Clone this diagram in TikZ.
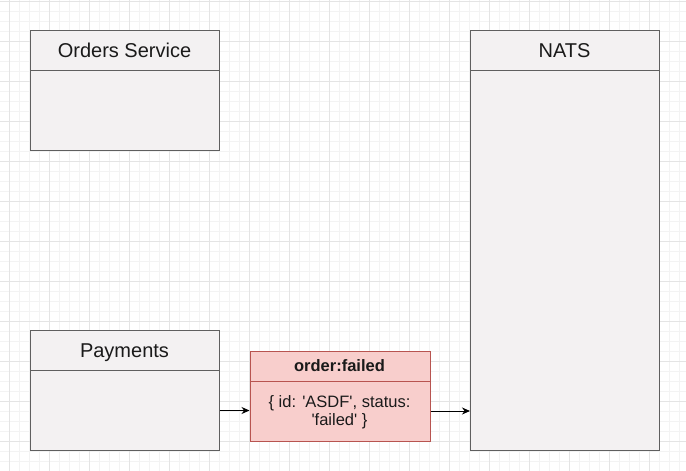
\documentclass[tikz,border=0pt]{standalone}
\usepackage{fontspec}
\setmainfont{Liberation Sans}
\usetikzlibrary{arrows.meta}
\definecolor{gridminor}{HTML}{F3F3F3}
\definecolor{gridmajor}{HTML}{E4E4E4}
\definecolor{boxfill}{HTML}{F3F1F2}
\definecolor{boxline}{HTML}{5F5F5F}
\definecolor{evfill}{HTML}{F8CECC}
\definecolor{evline}{HTML}{B85450}
\definecolor{txt}{HTML}{1A1A1A}
\tikzset{
  svcbox/.style={draw=boxline, fill=boxfill, line width=1pt, inner sep=0pt, anchor=north west},
  evbox/.style={draw=evline, fill=evfill, line width=1pt, inner sep=0pt, anchor=north west},
  title/.style={text=txt, font=\fontsize{20}{24}\selectfont, inner sep=0pt, anchor=base},
  evtitle/.style={text=txt, font=\fontsize{16.5}{20}\selectfont\bfseries, inner sep=0pt},
  evbody/.style={text=txt, font=\fontsize{16.5}{18.5}\selectfont, align=center, inner sep=0pt},
  arr/.style={-{Stealth[length=8pt,width=7pt]}, line width=1pt, draw=black},
}
\begin{document}
\begin{tikzpicture}[x=1pt,y=-1pt]
\useasboundingbox (0,0) rectangle (686,471);
\fill[white] (0,0) rectangle (686,471);
% grid
\foreach \i in {0,...,68} {
  \draw[gridminor, line width=0.8pt] (9.5+10*\i,0) -- (9.5+10*\i,471);
}
\foreach \j in {0,...,47} {
  \draw[gridminor, line width=0.8pt] (0,1+10*\j) -- (686,1+10*\j);
}
\foreach \i in {0,...,17} {
  \draw[gridmajor, line width=0.8pt] (9.5+40*\i,0) -- (9.5+40*\i,471);
}
\foreach \j in {0,...,11} {
  \draw[gridmajor, line width=0.8pt] (0,1+40*\j) -- (686,1+40*\j);
}
% Orders Service
\node[svcbox, minimum width=189pt, minimum height=120pt] (ord) at (30,30) {};
\draw[boxline, line width=1pt] (30,70) -- (219,70);
\node[title] (ordt) at (124.5,57) {Orders Service};
% Payments
\node[svcbox, minimum width=189pt, minimum height=120pt] (pay) at (30,330) {};
\draw[boxline, line width=1pt] (30,370) -- (219,370);
\node[title] (payt) at (124.5,357) {Payments};
% NATS
\node[svcbox, minimum width=189pt, minimum height=420pt] (nats) at (470,30) {};
\draw[boxline, line width=1pt] (470,70) -- (659,70);
\node[title] (natst) at (564.5,57) {NATS};
% Event
\node[evbox, minimum width=180pt, minimum height=90pt] (ev) at (249.5,350.5) {};
\draw[evline, line width=1pt] (249.5,381) -- (429.5,381);
\node[evtitle] (evt) at (339.5,366) {order:failed};
\node[evbody] (evb) at (339.5,412) {\{ id: \textquotesingle ASDF\textquotesingle, status:\\\textquotesingle failed\textquotesingle\ \}};
% connectors
\coordinate (p1) at ([yshift=-20pt]pay.east);
\coordinate (e1) at ([yshift=-15pt]ev.east);
\draw[arr] (p1) -- (p1 -| ev.west);
\draw[arr] (e1) -- (e1 -| nats.west);
\end{tikzpicture}
\end{document}
